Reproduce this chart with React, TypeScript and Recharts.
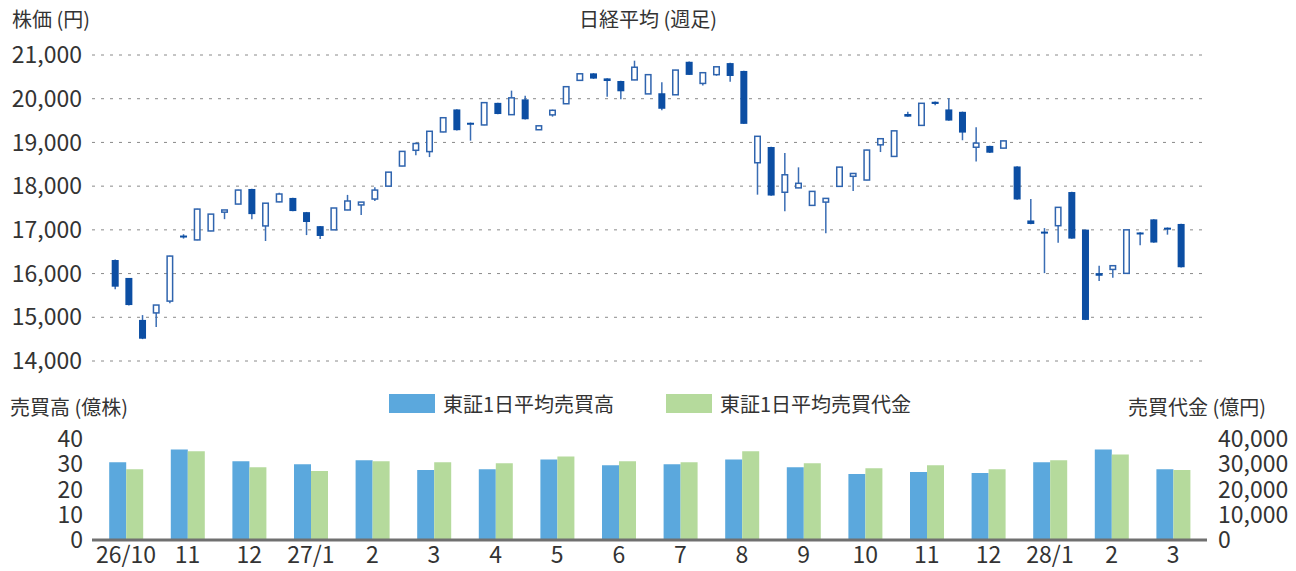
import { ComposedChart, BarChart, Bar, XAxis, YAxis, CartesianGrid } from "recharts";

// weekly Nikkei 225 (week ending), H26/10 - H28/3
const weeks = [
  "14/10/03", "14/10/10", "14/10/17", "14/10/24", "14/10/31", "14/11/07", "14/11/14", "14/11/21", "14/11/28",
  "14/12/05", "14/12/12", "14/12/19", "14/12/26", "14/12/30",
  "15/01/09", "15/01/16", "15/01/23", "15/01/30", "15/02/06", "15/02/13", "15/02/20", "15/02/27",
  "15/03/06", "15/03/13", "15/03/20", "15/03/27", "15/04/03", "15/04/10", "15/04/17", "15/04/24",
  "15/05/01", "15/05/08", "15/05/15", "15/05/22", "15/05/29", "15/06/05", "15/06/12", "15/06/19", "15/06/26",
  "15/07/03", "15/07/10", "15/07/17", "15/07/24", "15/07/31", "15/08/07", "15/08/14", "15/08/21", "15/08/28",
  "15/09/04", "15/09/11", "15/09/18", "15/09/25", "15/10/02", "15/10/09", "15/10/16", "15/10/23", "15/10/30",
  "15/11/06", "15/11/13", "15/11/20", "15/11/27", "15/12/04", "15/12/11", "15/12/18", "15/12/25", "15/12/30",
  "16/01/08", "16/01/15", "16/01/22", "16/01/29", "16/02/05", "16/02/12", "16/02/19", "16/02/26",
  "16/03/04", "16/03/11", "16/03/18", "16/03/25", "16/04/01",
];

const opens = [
  16310, 15900, 14940, 15100, 15370, 16870, 16770, 16975, 17405, 17590,
  17935, 17090, 17640, 17730, 17405, 17085, 17000, 17455, 17570, 17705,
  18000, 18460, 18820, 18790, 19240, 19755, 19450, 19400, 19905, 19635,
  19985, 19290, 19630, 19885, 20420, 20580, 20465, 20405, 20430, 20110,
  20125, 20090, 20845, 20350, 20550, 20815, 20635, 18535, 18895, 17860,
  17960, 17560, 17635, 17995, 18225, 18140, 18945, 18680, 19650, 19390,
  19930, 19755, 19700, 18890, 18920, 18870, 18450, 17215, 16960, 17095,
  17865, 17005, 16010, 16095, 16005, 16940, 17240, 17050, 17135,
];
const highs = [
  16320, 15900, 15050, 15280, 16410, 16900, 17480, 17365, 17455, 17915,
  17940, 17615, 17850, 17735, 17410, 17090, 17500, 17800, 17640, 17975,
  18325, 18800, 19000, 19255, 19570, 19760, 19455, 19925, 19910, 20185,
  20065, 19385, 19750, 20280, 20575, 20585, 20470, 20410, 20870, 20550,
  20375, 20660, 20850, 20600, 20735, 20820, 20640, 19145, 18900, 18760,
  18430, 17880, 17725, 18440, 18295, 18830, 19090, 19270, 19700, 19900,
  19935, 20010, 19705, 19350, 18925, 19040, 18455, 17705, 17040, 17515,
  17870, 17010, 16180, 16180, 17005, 16945, 17245, 17055, 17140,
];
const lows = [
  15640, 15270, 14500, 14780, 15320, 16800, 16760, 16970, 17245, 17585,
  17245, 16745, 17630, 17425, 16880, 16790, 16995, 17450, 17340, 17660,
  17995, 18455, 18705, 18665, 19235, 19275, 19040, 19395, 19645, 19630,
  19525, 19285, 19590, 19880, 20415, 20455, 20045, 19985, 20425, 20105,
  19735, 20085, 20540, 20305, 20525, 20390, 19420, 17805, 17780, 17425,
  17955, 17555, 16920, 17990, 17890, 18135, 18780, 18675, 19585, 19385,
  19850, 19495, 19050, 18565, 18760, 18865, 17690, 17130, 16010, 16705,
  16795, 14935, 15830, 15905, 16000, 16650, 16705, 16890, 16140,
];
const closes = [
  15700, 15280, 14510, 15280, 16400, 16850, 17475, 17360, 17455, 17910,
  17360, 17610, 17820, 17430, 17180, 16860, 17500, 17660, 17635, 17910,
  18320, 18795, 18975, 19255, 19565, 19280, 19420, 19910, 19650, 20020,
  19530, 19380, 19735, 20275, 20570, 20460, 20405, 20170, 20720, 20550,
  19770, 20655, 20545, 20595, 20730, 20520, 19425, 19140, 17785, 18260,
  18065, 17880, 17720, 18435, 18290, 18825, 19085, 19265, 19590, 19895,
  19880, 19500, 19225, 18985, 18765, 19035, 17695, 17135, 16950, 17515,
  16800, 14940, 15950, 16180, 17000, 16895, 16710, 17005, 16145,
];
const priceTicks = [14000, 15000, 16000, 17000, 18000, 19000, 20000, 21000];

// monthly averages (TSE)
const months = ["26/10", "11", "12", "27/1", "2", "3", "4", "5", "6", "7", "8", "9", "10", "11", "12", "28/1", "2", "3"];
const volume = [30.8, 35.8, 31.2, 30.0, 31.6, 27.7, 28.0, 31.9, 29.6, 30.0, 31.9, 28.8, 26.1, 26.9, 26.5, 30.8, 35.8, 28.0];
const turnover = [28050, 35100, 28800, 27300, 31200, 30800, 30400, 33100, 31200, 30800, 35100, 30400, 28400, 29600, 28050, 31600, 33900, 27700];
const volTicks = [0, 10, 20, 30, 40];
const valTicks = [0, 10000, 20000, 30000, 40000];

const candles = weeks.map((w, i) => ({ w, open: opens[i], high: highs[i], low: lows[i], close: closes[i] }));
const monthly = months.map((m, i) => ({ m, vol: volume[i], val: turnover[i] }));

const FONT = "'Noto Sans CJK JP', 'Noto Sans', sans-serif";
const TXT = "#333";
const DARK = "#0c4ea3";
const LINE = "#2f64ae";

function Candle(props: any) {
  const { x, y, width, height, payload } = props;
  const { open, high, low, close } = payload;
  const top = Math.min(y, y + height);
  const bottom = Math.max(y, y + height);
  const k = (bottom - top) / (high - low);
  const yOf = (v: number) => top + (high - v) * k;
  const cx = x + width / 2;
  const bTop = yOf(Math.max(open, close));
  let bBot = yOf(Math.min(open, close));
  if (bBot - bTop < 2) bBot = bTop + 2;
  const up = close >= open;
  return (
    <g>
      <line x1={cx} x2={cx} y1={top} y2={bottom} stroke="#3a6db4" strokeWidth={1.5} />
      {up ? (
        <rect x={x + 0.75} y={bTop} width={width - 1.5} height={bBot - bTop} fill="#fff" stroke={LINE} strokeWidth={1.5} />
      ) : (
        <rect x={x} y={bTop} width={width} height={bBot - bTop} fill={DARK} />
      )}
    </g>
  );
}

const label = (left: number, top: number, text: string, size = 20) => (
  <div style={{ position: "absolute", left, top, fontSize: size, lineHeight: 1, color: TXT, whiteSpace: "nowrap" }}>{text}</div>
);

export default function App() {
  const tickStyle = { fontSize: 23, fill: TXT, fontFamily: FONT };
  return (
    <div style={{ position: "absolute", left: 0, top: 0, width: 1296, height: 571, background: "#fff", fontFamily: FONT }}>
      {label(12, 9, "株価 (円)")}
      <div style={{ position: "absolute", left: 0, width: 1296, top: 9, textAlign: "center", fontSize: 20, lineHeight: 1, color: TXT }}>
        日経平均 (週足)
      </div>

      <div style={{ position: "absolute", left: 0, top: 0 }}>
        <ComposedChart width={1296} height={380} data={candles} margin={{ top: 55, right: 89, bottom: 19, left: 0 }}>
          <CartesianGrid horizontal vertical={false} stroke="#8a8a8a" strokeDasharray="3 6" />
          <XAxis dataKey="w" hide padding={{ left: 16.7, right: 18.7 }} />
          <YAxis
            domain={[14000, 21000]}
            ticks={priceTicks}
            interval={0}
            width={92}
            axisLine={false}
            tickLine={false}
            tickSize={0}
            tickMargin={10}
            tick={tickStyle}
            tickFormatter={(v: number) => v.toLocaleString("en-US")}
          />
          <Bar dataKey={(d: any) => [d.low, d.high]} barSize={7} shape={Candle} isAnimationActive={false} />
        </ComposedChart>
      </div>

      {label(10, 397, "売買高 (億株)")}
      <div style={{ position: "absolute", left: 389, top: 394, width: 46, height: 19, background: "#5ba8dd" }} />
      {label(443, 394, "東証1日平均売買高")}
      <div style={{ position: "absolute", left: 666, top: 394, width: 46, height: 19, background: "#b5da9c" }} />
      {label(720, 394, "東証1日平均売買代金")}
      {label(1128, 397, "売買代金 (億円)")}

      <div style={{ position: "absolute", left: 0, top: 380 }}>
        <BarChart width={1296} height={191} data={monthly} margin={{ top: 59, right: 0, bottom: 0, left: 0 }} barGap={0}>
          <CartesianGrid horizontal vertical={false} stroke="#8a8a8a" strokeDasharray="3 6" horizontalValues={[10, 20, 30, 40]} />
          <XAxis
            dataKey="m"
            height={31}
            padding={{ left: 3.2, right: 3 }}
            axisLine={{ stroke: "#707070", strokeWidth: 3 }}
            tickLine={false}
            tickSize={0}
            tickMargin={7}
            tick={tickStyle}
            interval={0}
          />
          <YAxis
            yAxisId="vol"
            domain={[0, 40]}
            ticks={volTicks}
            interval={0}
            width={92}
            axisLine={false}
            tickLine={false}
            tickSize={0}
            tickMargin={9}
            tick={tickStyle}
          />
          <YAxis
            yAxisId="val"
            orientation="right"
            domain={[0, 40000]}
            ticks={valTicks}
            interval={0}
            width={89}
            axisLine={false}
            tickLine={false}
            tickSize={0}
            tickMargin={11}
            tick={tickStyle}
            tickFormatter={(v: number) => v.toLocaleString("en-US")}
          />
          <Bar yAxisId="vol" dataKey="vol" fill="#5ba8dd" barSize={17} isAnimationActive={false} />
          <Bar yAxisId="val" dataKey="val" fill="#b5da9c" barSize={17} isAnimationActive={false} />
        </BarChart>
      </div>
    </div>
  );
}
